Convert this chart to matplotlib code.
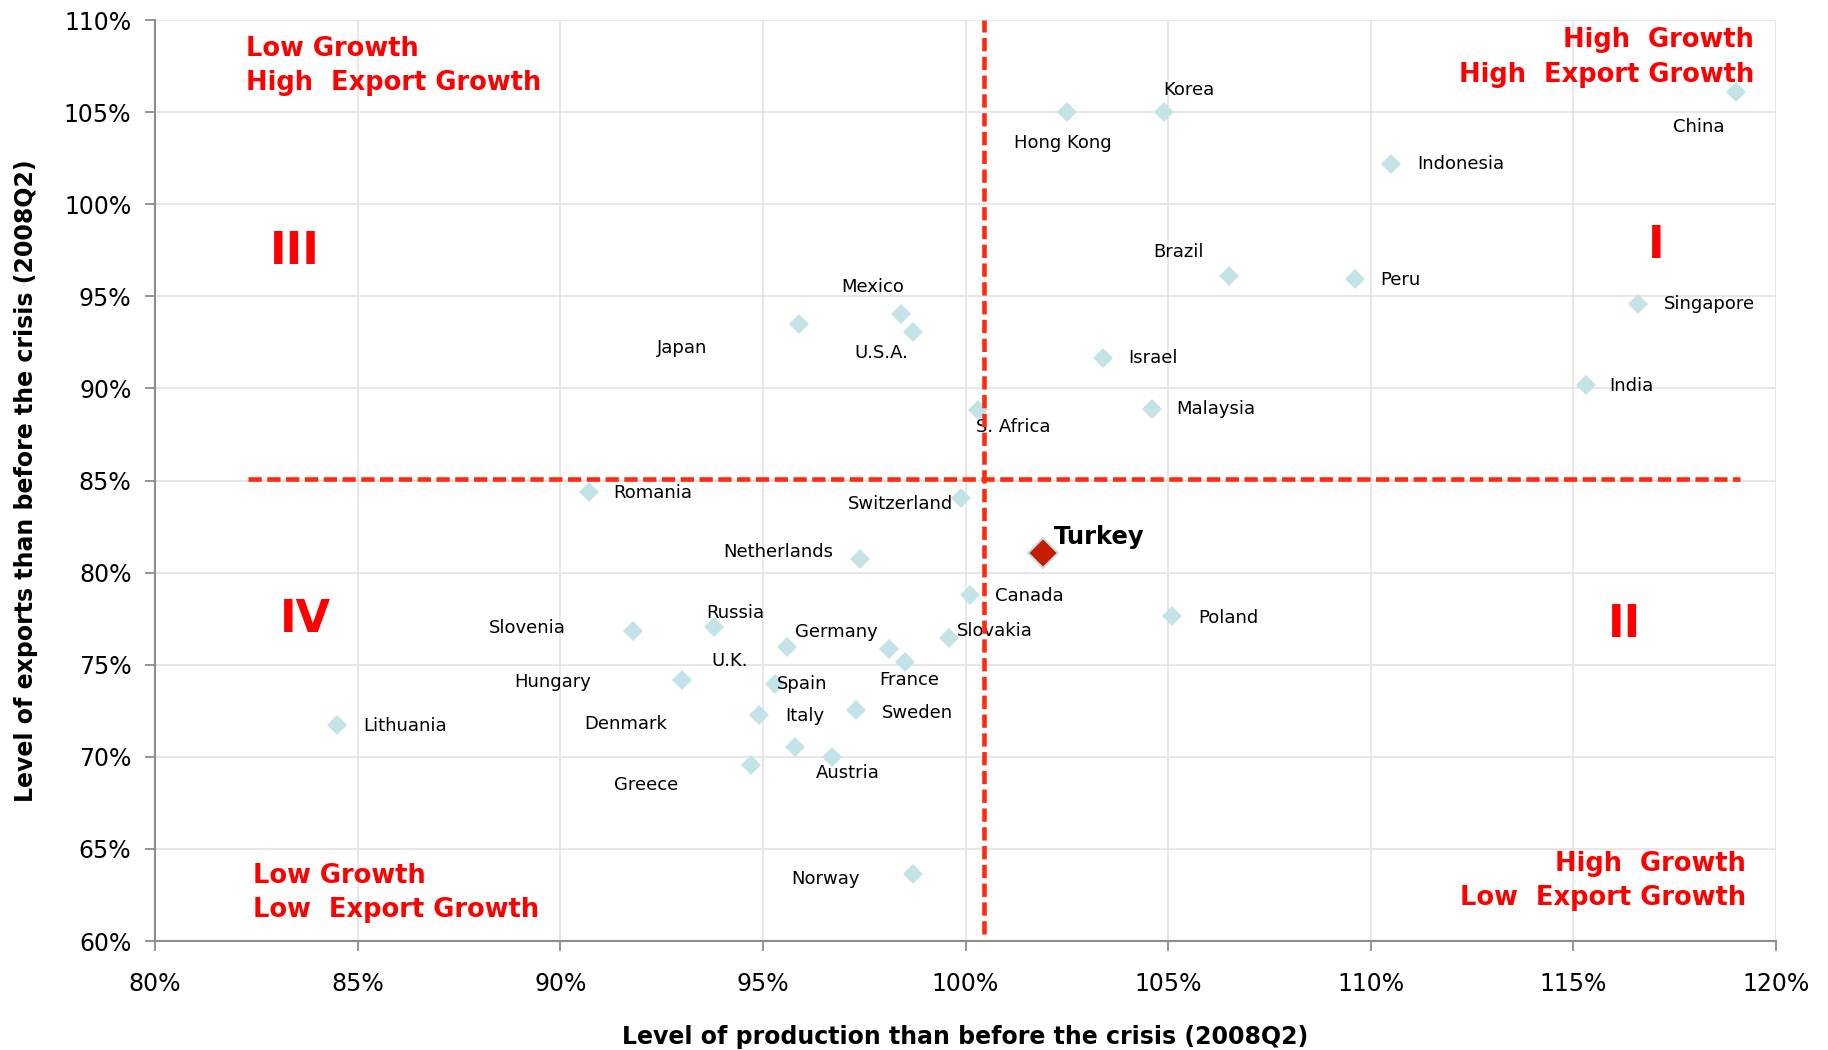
import numpy as np
import matplotlib
matplotlib.use("Agg")
import matplotlib.pyplot as plt

# production / exports level relative to 2008Q2 (in %)
countries = ["China", "Korea", "Hong Kong", "Indonesia", "Brazil", "Peru", "Singapore",
             "Mexico", "U.S.A.", "Japan", "Israel", "India", "Malaysia", "S. Africa",
             "Romania", "Switzerland", "Netherlands", "Canada", "Poland", "Slovakia",
             "Slovenia", "Russia", "Lithuania", "Hungary", "Germany", "U.K.", "France",
             "Spain", "Italy", "Sweden", "Denmark", "Greece", "Austria", "Norway"]
production = [119.0, 104.9, 102.5, 110.5, 106.5, 109.6, 116.6,
              98.4, 98.7, 95.9, 103.4, 115.3, 104.6, 100.3,
              90.7, 99.9, 97.4, 100.1, 105.1, 99.6,
              91.8, 93.8, 84.5, 93.0, 95.6, 98.1, 98.5,
              95.3, 94.9, 97.3, 95.8, 94.7, 96.7, 98.7]
exports = [106.1, 105.0, 105.0, 102.2, 96.1, 95.95, 94.6,
           94.05, 93.05, 93.5, 91.65, 90.2, 88.9, 88.85,
           84.4, 84.05, 80.75, 78.8, 77.65, 76.45,
           76.85, 77.05, 71.75, 74.15, 75.95, 75.85, 75.15,
           73.95, 72.25, 72.55, 70.55, 69.55, 70.0, 63.65]

turkey_prod = 101.9
turkey_exp = 81.05

# where the labels sit relative to their marker (pixels)
label_offsets = {
    "China": (-37, -35), "Korea": (25, 22), "Hong Kong": (-4, -31),
    "Indonesia": (70, 0), "Brazil": (-50, 24), "Peru": (46, -1),
    "Singapore": (71, 0), "Mexico": (-28, 27), "U.S.A.": (-32, -21),
    "Japan": (-117, -24), "Israel": (50, 0), "India": (46, -1),
    "Malaysia": (64, 0), "S. Africa": (36, -17), "Romania": (64, -1),
    "Switzerland": (-61, -6), "Netherlands": (-82, 7), "Canada": (60, -1),
    "Poland": (56, -2), "Slovakia": (45, 7), "Slovenia": (-106, 3),
    "Russia": (21, 14), "Lithuania": (68, -1), "Hungary": (-129, -2),
    "Germany": (49, 15), "U.K.": (-159, -12), "France": (4, -18),
    "Spain": (27, 0), "Italy": (46, -1), "Sweden": (61, -3),
    "Denmark": (-170, 23), "Greece": (-105, -20), "Austria": (16, -16),
    "Norway": (-87, -5),
}

xticks = np.arange(80, 121, 5)
yticks = np.arange(60, 111, 5)

red = "#FF0000"
dash_red = "#FF2A0F"
light_blue = "#C4E3E6"

fig = plt.figure(figsize=(18.28, 10.5), dpi=100)
ax = fig.add_axes([0.0848, 0.1038, 0.8868, 0.8771])

ax.set_xlim(80, 120)
ax.set_ylim(60, 110)
ax.set_xticks(xticks)
ax.set_yticks(yticks)
ax.set_xticklabels(["%d%%" % v for v in xticks])
ax.set_yticklabels(["%d%%" % v for v in yticks])
ax.tick_params(axis="both", labelsize=17, length=7, width=1.3, color="#8C8C8C")
ax.tick_params(axis="x", pad=15)
ax.tick_params(axis="y", pad=10)

ax.grid(True, color="#E3E3E3", linewidth=1.2)
ax.set_axisbelow(True)
for side in ["top", "right"]:
    ax.spines[side].set_visible(False)
for side in ["left", "bottom"]:
    ax.spines[side].set_color("#8C8C8C")
    ax.spines[side].set_linewidth(1.5)

ax.set_xlabel("Level of production than before the crisis (2008Q2)",
              fontsize=17, fontweight="bold", labelpad=21)
ax.set_ylabel("Level of exports than before the crisis (2008Q2)",
              fontsize=17, fontweight="bold", labelpad=19)

# countries
ax.plot(production, exports, "D", color=light_blue, markersize=10.2,
        markeredgewidth=0, zorder=3)
for name, x, y in zip(countries, production, exports):
    dx, dy = label_offsets[name]
    ax.annotate(name, (x, y), xytext=(dx, dy), textcoords="offset pixels",
                ha="center", va="center", fontsize=13, zorder=4)

# quadrant separators
ax.plot([100.45, 100.45], [60.4, 110], color=dash_red, linewidth=3.3,
        dashes=(2.9, 1.2), zorder=5)
ax.plot([82.3, 119.1], [85.1, 85.1], color=dash_red, linewidth=3.3,
        dashes=(2.9, 1.2), zorder=5)

# Turkey highlighted
ax.plot([turkey_prod], [turkey_exp], "D", color="#C41C00", markersize=15.3,
        markeredgecolor="#BFE0E6", markeredgewidth=1.5, zorder=6)
ax.annotate("Turkey", (turkey_prod, turkey_exp), xytext=(57, 16),
            textcoords="offset pixels", ha="center", va="center",
            fontsize=17.5, fontweight="bold", zorder=6)

# quadrant captions
qfont = dict(fontsize=18.5, fontweight="bold", color=red, linespacing=1.42)
ax.text(0.0563, 0.983, "Low Growth\nHigh  Export Growth", transform=ax.transAxes,
        ha="left", va="top", **qfont)
ax.text(0.9865, 0.992, "High  Growth\nHigh  Export Growth", transform=ax.transAxes,
        ha="right", va="top", **qfont)
ax.text(0.0605, 0.085, "Low Growth\nLow  Export Growth", transform=ax.transAxes,
        ha="left", va="top", **qfont)
ax.text(0.9815, 0.098, "High  Growth\nLow  Export Growth", transform=ax.transAxes,
        ha="right", va="top", **qfont)

nfont = dict(fontsize=32, fontweight="bold", color=red, ha="center", va="center")
ax.text(83.45, 97.45, "III", **nfont)
ax.text(117.05, 97.75, "I", **nfont)
ax.text(83.7, 77.45, "IV", **nfont)
ax.text(116.25, 77.2, "II", **nfont)

fig.savefig("out.png", dpi=100)
